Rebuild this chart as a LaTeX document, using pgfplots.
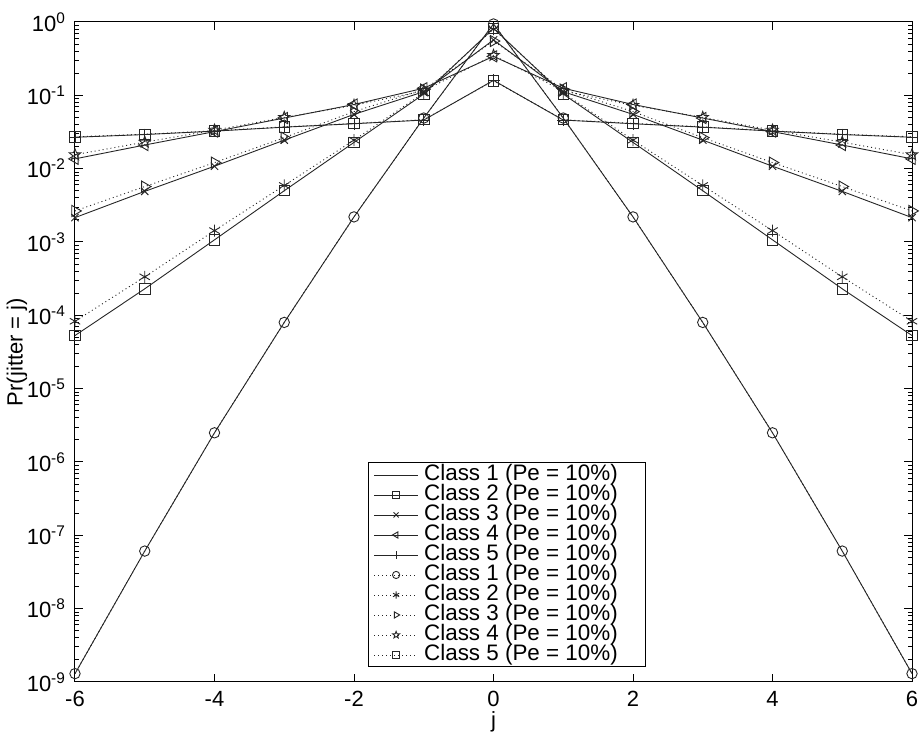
\documentclass[border=0pt]{standalone}
\usepackage{fontspec}
\setmainfont{Liberation Sans}
\usepackage{pgfplots}
\pgfplotsset{compat=1.18}
\usetikzlibrary{calc}
\pgfdeclareplotmark{pentagram}{%
  \pgfpathmoveto{\pgfpointpolar{90}{\pgfplotmarksize}}%
  \pgfpathlineto{\pgfpointpolar{126}{0.42\pgfplotmarksize}}%
  \pgfpathlineto{\pgfpointpolar{162}{\pgfplotmarksize}}%
  \pgfpathlineto{\pgfpointpolar{198}{0.42\pgfplotmarksize}}%
  \pgfpathlineto{\pgfpointpolar{234}{\pgfplotmarksize}}%
  \pgfpathlineto{\pgfpointpolar{270}{0.42\pgfplotmarksize}}%
  \pgfpathlineto{\pgfpointpolar{306}{\pgfplotmarksize}}%
  \pgfpathlineto{\pgfpointpolar{342}{0.42\pgfplotmarksize}}%
  \pgfpathlineto{\pgfpointpolar{18}{\pgfplotmarksize}}%
  \pgfpathlineto{\pgfpointpolar{54}{0.42\pgfplotmarksize}}%
  \pgfpathclose
  \pgfusepathqstroke}
\newcommand{\leg}[1]{#1\hspace*{8pt}}
\begin{document}
\begin{tikzpicture}[font=\fontsize{11}{13}\selectfont]
\begin{semilogyaxis}[
  scale only axis, width=418.5pt, height=330pt,
  xmin=-6, xmax=6, ymin=1e-9, ymax=1,
  xtick={-6,-4,-2,0,2,4,6},
  xticklabels={-6,-4,-2,0,2,4,6},
  ytick={1e-9,1e-8,1e-7,1e-6,1e-5,1e-4,1e-3,1e-2,1e-1,1},
  yticklabels={10\textsuperscript{-9},10\textsuperscript{-8},10\textsuperscript{-7},10\textsuperscript{-6},10\textsuperscript{-5},10\textsuperscript{-4},10\textsuperscript{-3},10\textsuperscript{-2},10\textsuperscript{-1},10\textsuperscript{0}},
  minor ytick={2e-9,3e-9,4e-9,5e-9,6e-9,7e-9,8e-9,9e-9,
    2e-8,3e-8,4e-8,5e-8,6e-8,7e-8,8e-8,9e-8,
    2e-7,3e-7,4e-7,5e-7,6e-7,7e-7,8e-7,9e-7,
    2e-6,3e-6,4e-6,5e-6,6e-6,7e-6,8e-6,9e-6,
    2e-5,3e-5,4e-5,5e-5,6e-5,7e-5,8e-5,9e-5,
    2e-4,3e-4,4e-4,5e-4,6e-4,7e-4,8e-4,9e-4,
    2e-3,3e-3,4e-3,5e-3,6e-3,7e-3,8e-3,9e-3,
    2e-2,3e-2,4e-2,5e-2,6e-2,7e-2,8e-2,9e-2,
    2e-1,3e-1,4e-1,5e-1,6e-1,7e-1,8e-1,9e-1},
  tick align=inside,
  major tick length=4pt, minor tick length=2pt,
  every tick/.style={black, line width=0.5pt},
  axis line style={line width=0.5pt},
  xlabel={j}, ylabel={Pr(jitter = j)},
  every axis x label/.style={at={(axis description cs:0.5,0)}, yshift=-20pt, anchor=center},
  every axis y label/.style={at={(axis description cs:0,0.5)}, xshift=-29pt, rotate=90, anchor=center},
  xticklabel style={yshift=-1pt},
  yticklabel style={xshift=-1pt},
  clip=false,
  every axis plot/.append style={line width=0.45pt, black!85, mark size=2.6pt},
  legend style={at={(0.516,0.022)}, anchor=south, draw=black, line width=0.5pt, fill=white,
    font=\fontsize{11.2}{11.2}\selectfont, inner xsep=3pt, inner ysep=1pt,
    nodes={inner ysep=0.5pt, inner xsep=3pt, text height=7.4pt, text depth=1.6pt}},
  legend cell align=left,
  legend image code/.code={\draw[mark repeat=2, mark phase=2, #1, mark size=1.8pt] plot coordinates {(0cm,0cm) (0.38cm,0cm) (0.76cm,0cm)};},
]
% solid
\addplot[solid, mark=none] coordinates {(-6,1.3e-9)(-5,6.1e-8)(-4,2.5e-6)(-3,8.0e-5)(-2,2.2e-3)(-1,0.049)(0,0.94)(1,0.049)(2,2.2e-3)(3,8.0e-5)(4,2.5e-6)(5,6.1e-8)(6,1.3e-9)};
\addlegendentry{\leg{Class 1 (Pe = 10\%)}}
\addplot[solid, mark=square] coordinates {(-6,5.3e-5)(-5,2.3e-4)(-4,1.07e-3)(-3,5.0e-3)(-2,0.0228)(-1,0.104)(0,0.82)(1,0.104)(2,0.0228)(3,5.0e-3)(4,1.07e-3)(5,2.3e-4)(6,5.3e-5)};
\addlegendentry{\leg{Class 2 (Pe = 10\%)}}
\addplot[solid, mark=x] coordinates {(-6,2.15e-3)(-5,4.9e-3)(-4,0.0108)(-3,0.0245)(-2,0.055)(-1,0.112)(0,0.57)(1,0.112)(2,0.055)(3,0.0245)(4,0.0108)(5,4.9e-3)(6,2.15e-3)};
\addlegendentry{\leg{Class 3 (Pe = 10\%)}}
\addplot[solid, mark=triangle, mark size=3.2pt, mark options={rotate=90}] coordinates {(-6,0.0136)(-5,0.021)(-4,0.032)(-3,0.049)(-2,0.075)(-1,0.125)(0,0.34)(1,0.125)(2,0.075)(3,0.049)(4,0.032)(5,0.021)(6,0.0136)};
\addlegendentry{\leg{Class 4 (Pe = 10\%)}}
\addplot[solid, mark=+, mark size=3pt] coordinates {(-6,0.0268)(-5,0.0292)(-4,0.0325)(-3,0.0368)(-2,0.041)(-1,0.046)(0,0.16)(1,0.046)(2,0.041)(3,0.0368)(4,0.0325)(5,0.0292)(6,0.0268)};
\addlegendentry{\leg{Class 5 (Pe = 10\%)}}
% dotted
\addplot[dash pattern=on 0.5pt off 1.5pt, mark=o, mark options={solid}] coordinates {(-6,1.3e-9)(-5,6.1e-8)(-4,2.5e-6)(-3,8.0e-5)(-2,2.2e-3)(-1,0.049)(0,0.94)(1,0.049)(2,2.2e-3)(3,8.0e-5)(4,2.5e-6)(5,6.1e-8)(6,1.3e-9)};
\addlegendentry{\leg{Class 1 (Pe = 10\%)}}
\addplot[dash pattern=on 0.5pt off 1.5pt, mark=asterisk, mark size=3pt, mark options={solid}] coordinates {(-6,8.3e-5)(-5,3.35e-4)(-4,1.43e-3)(-3,5.9e-3)(-2,0.0245)(-1,0.108)(0,0.80)(1,0.108)(2,0.0245)(3,5.9e-3)(4,1.43e-3)(5,3.35e-4)(6,8.3e-5)};
\addlegendentry{\leg{Class 2 (Pe = 10\%)}}
\addplot[dash pattern=on 0.5pt off 1.5pt, mark=triangle, mark size=3.2pt, mark options={solid, rotate=-90}] coordinates {(-6,2.65e-3)(-5,5.7e-3)(-4,0.0121)(-3,0.0265)(-2,0.060)(-1,0.12)(0,0.55)(1,0.12)(2,0.060)(3,0.0265)(4,0.0121)(5,5.7e-3)(6,2.65e-3)};
\addlegendentry{\leg{Class 3 (Pe = 10\%)}}
\addplot[dash pattern=on 0.5pt off 1.5pt, mark=pentagram, mark size=3pt, mark options={solid}] coordinates {(-6,0.0155)(-5,0.023)(-4,0.0335)(-3,0.050)(-2,0.073)(-1,0.115)(0,0.35)(1,0.115)(2,0.073)(3,0.050)(4,0.0335)(5,0.023)(6,0.0155)};
\addlegendentry{\leg{Class 4 (Pe = 10\%)}}
\addplot[dash pattern=on 0.5pt off 1.5pt, mark=square, mark options={solid}] coordinates {(-6,0.0272)(-5,0.0295)(-4,0.0328)(-3,0.0372)(-2,0.0415)(-1,0.0465)(0,0.158)(1,0.0465)(2,0.0415)(3,0.0372)(4,0.0328)(5,0.0295)(6,0.0272)};
\addlegendentry{\leg{Class 5 (Pe = 10\%)}}
\end{semilogyaxis}
\pgfresetboundingbox
\path ($(current axis.south west)+(-37.5pt,-29pt)$) rectangle ($(current axis.north east)+(6pt,11pt)$);
\end{tikzpicture}
\end{document}
